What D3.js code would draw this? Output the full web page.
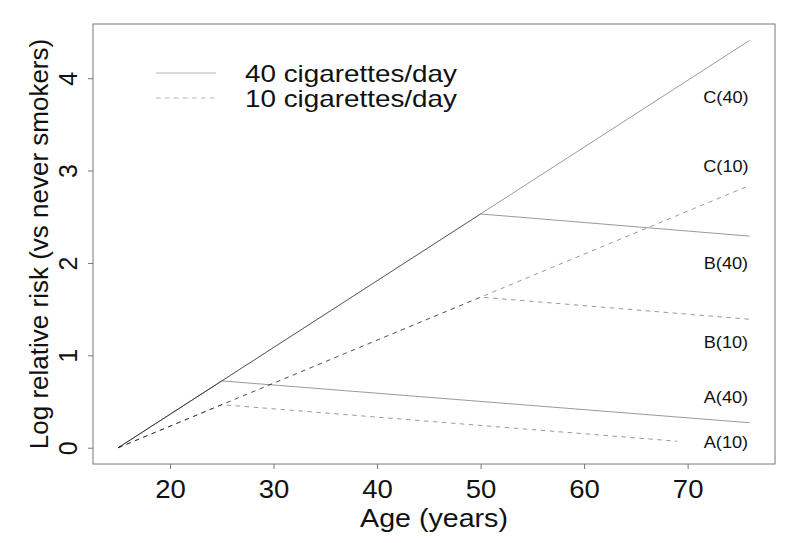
<!DOCTYPE html>
<html>
<head>
<meta charset="utf-8">
<script src="https://cdn.jsdelivr.net/npm/d3@7"></script>
<style>
  html, body { margin: 0; padding: 0; background: #fff; }
  svg { display: block; font-family: "Liberation Sans", Arial, Helvetica, sans-serif; }
</style>
</head>
<body>
<svg id="chart" width="800" height="543"></svg>
<script>
// ---- data ----
const seriesNames = ["A(40)", "A(10)", "B(40)", "B(10)", "C(40)", "C(10)"];
const seriesDose  = [40, 10, 40, 10, 40, 10];
const seriesAges  = [[15, 25, 76], [15, 25, 69], [15, 50, 76], [15, 50, 76], [15, 76], [15, 76]];
const seriesValues = [[0, 0.723, 0.27], [0, 0.466, 0.07], [0, 2.530, 2.29], [0, 1.630, 1.39], [0, 4.41], [0, 2.84]];
const labelAge = 73.7;
const labelValues = [0.55, 0.06, 2.0, 1.14, 3.8, 3.05];
const xTicks = [20, 30, 40, 50, 60, 70];
const yTicks = [0, 1, 2, 3, 4];
const legendLabels = ["40 cigarettes/day", "10 cigarettes/day"];
const legendDose = [40, 10];
const xTitle = "Age (years)";
const yTitle = "Log relative risk (vs never smokers)";

// ---- layout ----
const L = 93, R = 775, T = 24, B = 464;
const SX = 1.1; // horizontal stretch of the reference's text
const svg = d3.select("#chart");
const x = d3.scaleLinear().domain([12.56, 78.44]).range([L, R]);
const y = d3.scaleLinear().domain([-0.1764, 4.5864]).range([B, T]);
const dash = d => d === 10 ? "4.5,4.5" : null;

// lines
const line = d3.line().x(d => x(d[0])).y(d => y(d[1]));
seriesNames.forEach((name, i) => {
  const pts = seriesAges[i].map((a, j) => [a, seriesValues[i][j]]);
  svg.append("path")
    .attr("d", line(pts))
    .attr("fill", "none")
    .attr("stroke", "#000")
    .attr("stroke-opacity", 0.4)
    .attr("stroke-width", 1)
    .attr("stroke-dasharray", dash(seriesDose[i]));
});

// series labels
seriesNames.forEach((name, i) => {
  svg.append("text")
    .attr("transform", `translate(${x(labelAge)},${y(labelValues[i])}) scale(${SX},1)`)
    .attr("text-anchor", "middle")
    .attr("dy", "0.36em")
    .attr("font-size", 16.5)
    .attr("fill", "#111")
    .text(name);
});

// x axis
const gx = svg.append("g")
  .attr("transform", `translate(0,${B})`)
  .call(d3.axisBottom(x).tickValues(xTicks).tickSize(5).tickFormat(d3.format("d")));
gx.select(".domain").remove();
gx.selectAll(".tick line").attr("stroke", "#777");
gx.selectAll(".tick text")
  .attr("y", 34).attr("dy", 0)
  .attr("transform", `scale(${SX},1)`)
  .attr("font-size", 25)
  .attr("fill", "#111")
  .attr("font-family", null);

// y axis
const gy = svg.append("g")
  .attr("transform", `translate(${L},0)`)
  .call(d3.axisLeft(y).tickValues(yTicks).tickSize(5).tickFormat(d3.format("d")));
gy.select(".domain").remove();
gy.selectAll(".tick line").attr("stroke", "#777");
gy.selectAll(".tick text")
  .attr("x", 0).attr("y", -16).attr("dy", 0)
  .attr("transform", "rotate(-90)")
  .attr("text-anchor", "middle")
  .attr("font-size", 25)
  .attr("fill", "#111")
  .attr("font-family", null);

// box
svg.append("rect")
  .attr("x", L).attr("y", T)
  .attr("width", R - L).attr("height", B - T)
  .attr("fill", "none").attr("stroke", "#777").attr("stroke-width", 1);

// titles
svg.append("text")
  .attr("transform", `translate(${(L + R) / 2},527) scale(${SX},1)`)
  .attr("text-anchor", "middle")
  .attr("font-size", 26)
  .attr("fill", "#111")
  .text(xTitle);
svg.append("text")
  .attr("transform", `translate(48,${(T + B) / 2}) rotate(-90)`)
  .attr("text-anchor", "middle")
  .attr("font-size", 26)
  .attr("fill", "#111")
  .text(yTitle);

// legend
legendLabels.forEach((lab, i) => {
  const ly = 73 + i * 25;
  svg.append("line")
    .attr("x1", 156).attr("x2", 216)
    .attr("y1", ly).attr("y2", ly)
    .attr("stroke", "#000").attr("stroke-opacity", 0.3)
    .attr("stroke-dasharray", dash(legendDose[i]));
  svg.append("text")
    .attr("transform", `translate(245,${ly + 8.5}) scale(1.16,1)`)
    .attr("font-size", 24)
    .attr("fill", "#111")
    .text(lab);
});
</script>
</body>
</html>
